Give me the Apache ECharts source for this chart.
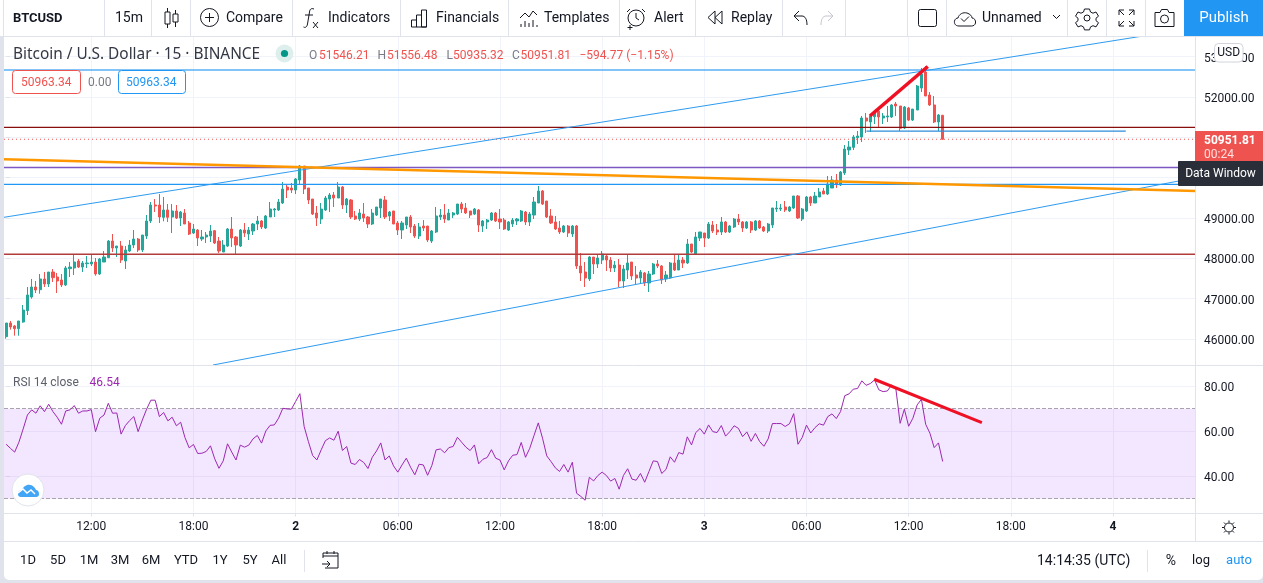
<!DOCTYPE html>
<html>
<head>
<meta charset="utf-8">
<title>BTCUSD 15m</title>
<script src="https://cdn.jsdelivr.net/npm/echarts@6/dist/echarts.min.js"></script>
<style>
  html, body { margin: 0; padding: 0; background: #e0e3eb; width: 1263px; height: 583px; overflow: hidden; }
  #paper { position: absolute; left: 4px; top: 0; width: 1259px; height: 580px; background: #fff; border-radius: 0 0 5px 5px; }
  #cap { position: absolute; left: 0; top: 0; width: 4px; height: 36px; background: #fff; }
  #chart { position: absolute; left: 0; top: 0; width: 1263px; height: 583px; }
</style>
</head>
<body>
<div id="paper"></div>
<div id="cap"></div>
<div id="chart"></div>
<script>
// 15-minute BTCUSD candles as [open, close, low, high], one array per session.
const ohlcDay1 = [
  [46054,46393,46004,46393],[46393,46294,46228,46443],[46319,46252,46079,46343],[46252,46443,46079,46443],
  [46418,46715,46401,46840],[46699,47088,46591,47286],[47038,47286,46997,47485],[47286,47212,47137,47435],
  [47220,47485,47121,47609],[47485,47361,47286,47658],[47361,47658,47286,47658],[47658,47518,47410,47733],
  [47534,47435,47137,47634],[47460,47336,47286,47609],[47336,47758,47311,47807],[47741,47782,47534,47906],
  [47758,47906,47584,48080],[47931,47782,47758,47981],[47782,47882,47658,47931],[47865,47882,47758,48055],
  [47857,47906,47807,48105],[47906,47609,47567,48006],[47609,47981,47584,48006],[47906,48030,47906,48179],
  [48014,48427,48006,48452],[48427,48254,48154,48601],[48254,48303,48030,48303],[48303,47956,47882,48427],
  [47931,48204,47733,48303],[48179,48328,48154,48452],[48328,48477,48254,48700],[48477,48204,48154,48502],
  [48204,48576,48154,48576],[48551,48924,48477,49072],[48924,49321,48874,49395],[49321,49296,49147,49469],
  [49321,49023,48874,49593],[49015,49197,48915,49519],[49197,49015,48899,49345],[49023,49172,48626,49345],
  [49172,48998,48973,49321],[48998,49147,48799,49172],[49122,48849,48849,49221],[48874,48601,48576,48924],
  [48626,48725,48601,48849],[48700,48502,48303,48725],[48477,48527,48427,48700],[48527,48576,48378,48651],
  [48551,48675,48403,48824],[48684,48378,48353,48700],[48427,48179,48130,48527],[48154,48328,48154,48452],
  [48303,48725,48278,48750],[48725,48502,48278,49023],[48527,48328,48097,48551],[48303,48700,48278,48725],
  [48700,48626,48527,48874],[48601,48700,48452,48775],[48675,48849,48576,48874],[48849,48924,48700,49048],
  [48924,48775,48725,48948],[48750,49048,48725,49072],[49023,49221,49023,49395],[49197,49221,49023,49246],
  [49197,49395,49172,49469],[49370,49718,49345,49891],[49767,49693,49494,49842],[49742,49693,49618,49866]
];
const ohlcDay2 = [
  [49693,49966,49593,49990],[49941,50288,49842,50313],[50288,49718,49593,50288],[49742,49445,49345,49742],
  [49469,49097,49072,49469],[49122,48998,48799,49296],[48973,49221,48849,49370],[49197,49494,49172,49544],
  [49469,49569,49147,49618],[49569,49494,49271,49643],[49494,49767,49494,49891],[49767,49321,49221,49792],
  [49321,49469,49122,49494],[49445,49023,48973,49469],[49048,48973,48948,49172],[48973,49122,48924,49221],
  [49097,48998,48899,49370],[49023,48849,48750,49048],[48849,49122,48824,49221],[49072,49271,49048,49271],
  [49246,49469,48998,49469],[49445,49023,48973,49544],[49048,49147,48924,49172],[49172,48849,48849,49172],
  [48874,48700,48576,48924],[48700,48874,48477,48924],[48824,49023,48725,49023],[49023,48775,48626,49072],
  [48799,48551,48502,48849],[48551,48775,48477,48874],[48799,48750,48675,48948],[48799,48452,48403,48799],
  [48427,48675,48378,48700],[48651,49048,48626,49271],[49023,49072,48948,49221],[49072,48973,48874,49345],
  [48948,49122,48948,49221],[49072,49122,48998,49147],[49097,49345,49072,49345],[49345,49221,49122,49395],
  [49246,49122,49097,49370],[49172,49072,48998,49172],[49097,49221,49072,49246],[49197,48824,48651,49221],
  [48799,48924,48651,48948],[48899,48948,48725,48973],[48948,49122,48924,49147],[49122,48924,48899,49147],
  [48973,48899,48725,49221],[48948,48725,48700,48998],[48700,48899,48675,48924],[48849,48948,48775,48998],
  [48924,48973,48824,48998],[48924,49172,48899,49197],[49147,48899,48824,49172],[48899,49097,48799,49147],
  [49072,49395,48973,49519],[49370,49668,49370,49792],[49668,49345,49321,49693],[49420,49023,48998,49420],
  [49048,48874,48849,49221],[48899,48725,48700,49048],[48750,48651,48601,48924],[48651,48799,48626,48824],
  [48799,48626,48527,48824],[48601,48799,48527,48824],[48799,47807,47733,48824],[47807,47634,47435,48130],
  [47658,47509,47286,47906],[47485,48030,47435,48055],[48030,47857,47609,48030],[47857,48006,47758,48105],
  [47956,48105,47857,48179],[48055,47956,47683,48080],[47956,47758,47658,48030],[47758,47832,47658,47931],
  [47832,47435,47286,47981],[47435,47733,47261,47832],[47708,47882,47485,48080],[47906,47559,47460,47906],
  [47584,47509,47361,47807],[47509,47658,47361,47708],[47634,47385,47311,47658],[47385,47609,47162,47683],
  [47609,47857,47584,47882],[47857,47807,47758,47956],[47807,47460,47361,47832],[47485,47584,47410,47683],
  [47509,47882,47485,47906],[47882,47708,47683,48080],[47708,47956,47708,48080],[47956,47882,47758,48030],
  [47882,48353,47857,48477],[48353,48154,48130,48353],[48105,48527,48105,48651],[48502,48651,48427,48651]
];
const ohlcDay3 = [
  [48626,48502,48278,48626],[48502,48849,48477,48899],[48824,48675,48626,48924],[48700,48651,48576,48849],
  [48651,48899,48576,49023],[48899,48651,48626,48924],[48651,48799,48626,48824],[48775,48973,48750,48998],
  [48973,48899,48824,49097],[48899,48750,48651,48924],[48750,48899,48725,48924],[48899,48700,48626,48924],
  [48700,48924,48675,48948],[48924,48750,48725,48948],[48775,48675,48651,48799],[48675,48849,48626,48874],
  [48824,49246,48750,49246],[49221,49246,49147,49420],[49221,49246,49172,49345],[49271,49197,49147,49420],
  [49172,49271,49147,49296],[49246,49544,49221,49544],[49544,48998,48973,49569],[48973,49221,48924,49246],
  [49172,49519,49147,49544],[49519,49370,49296,49544],[49370,49544,49370,49643],[49519,49643,49519,49742],
  [49668,49593,49593,49742],[49593,49842,49569,50040],[49742,49941,49742,50040],[49941,49842,49742,50090],
  [49817,50139,49792,50164],[50115,50710,50065,50809],[50685,50760,50561,50908],[50751,51008,50685,51057],
  [50991,51032,50834,51156],[51008,51479,50884,51529],[51479,51405,51107,51603],[51380,51529,51132,51553],
  [51512,51628,51330,51678],[51653,51504,51256,51702],[51479,51529,51330,51603],[51504,51529,51380,51777],
  [51504,51802,51479,51826],[51826,51777,51529,51876],[51777,51223,51157,51777],[51231,51752,51206,51777],
  [51727,51429,51405,51752],[51429,51702,51405,51702],[51678,52273,51678,52298],[52223,52571,52124,52720],
  [52620,52025,52025,52769],[52050,51802,51777,52124],[51802,51380,51355,52025],[51380,51553,51157,51578],
  [51546.21,50951.81,50935.32,51556.48]
];

// RSI(14) on close for the same bars.
const rsiDay1 = [
  54.2,52.4,50.7,55.1,61.0,67.2,69.5,68.0,71.3,68.7,72.0,68.7,66.2,63.1,69.0,69.5,71.4,68.0,69.0,69.0,
  69.6,59.8,65.8,67.2,72.4,68.0,68.1,58.7,62.5,64.7,66.5,59.8,65.0,69.8,73.8,73.8,66.5,68.3,64.6,66.2,
  62.4,64.0,57.2,52.6,54.1,50.1,50.2,51.0,53.5,47.7,43.5,46.8,54.4,50.7,47.2,53.8,52.9,53.8,56.6,58.1,
  54.7,60.1,62.6,62.8,65.8,70.2,69.9,69.8
];
const rsiDay2 = [
  73.2,76.7,62.1,55.4,49.2,47.2,51.7,55.8,57.0,56.0,60.0,51.4,53.2,45.8,45.2,47.4,46.1,43.4,48.4,51.2,
  54.8,47.2,49.0,44.6,41.8,45.0,48.0,44.0,40.6,45.3,45.0,40.4,44.7,51.7,52.1,50.4,52.7,53.2,57.3,55.1,
  52.9,51.4,53.9,45.5,47.5,48.3,51.8,48.0,47.2,42.8,46.8,49.3,49.6,55.0,48.4,52.4,58.1,63.7,56.9,49.0,
  46.5,43.7,42.1,45.2,41.8,46.2,32.4,31.0,29.3,39.5,37.9,40.3,41.8,40.3,37.8,39.0,34.2,40.3,43.3,38.7,
  38.2,41.2,37.3,42.1,46.8,46.5,41.2,43.0,48.6,46.2,50.5,49.8,57.5,53.9,59.4,61.2
];
const rsiDay3 = [
  58.7,62.8,59.8,59.4,62.5,57.8,59.8,62.4,61.3,57.6,59.7,55.5,59.0,55.4,53.3,56.6,63.4,63.4,63.4,62.1,
  63.3,67.8,54.2,57.2,62.7,59.2,61.6,63.3,62.7,66.5,67.7,65.6,68.7,75.8,76.6,78.7,79.0,82.4,80.4,81.2,
  82.8,78.4,77.6,77.9,80.6,78.8,63.5,69.8,62.2,65.8,71.7,74.2,63.1,59.1,52.7,54.8,46.54
];

// Axis ticks. Bar numbers count 15-minute steps from the first candle.
const timeTickBars = [20, 44, 68, 92, 116, 140, 164, 188, 212, 236, 260];
const timeTickLabels = ['12:00', '18:00', '2', '06:00', '12:00', '18:00', '3', '06:00', '12:00', '18:00', '4'];
const priceTicks = [46000, 47000, 48000, 49000, 50000, 51000, 52000, 53000];
const rsiTicks = [40, 60, 80];
const rsiBand = [30, 70];

// Horizontal levels drawn on the price pane.
const levelTop = 52670;
const levelDark = 51248;
const levelLastClose = 50951.81;
const levelPurple = 50251;
const levelBlue = 49834;
const levelRed = 48097;

// Drawn trend lines as [bar, value] pairs.
const channelUpper = [[-0.5, 49016], [267.5, 53521]];
const channelLower = [[48.6, 45351], [279.5, 49998]];
const orangeTrend = [[-0.5, 50454], [279.5, 49668]];
const priceDivergence = [[202.9, 51529], [216.5, 52757]];
const shortLevel = [[202.1, 51156], [263, 51156]];
const rsiDivergence = [[203.9, 83.1], [229.2, 63.8]];

const candles = ohlcDay1.concat(ohlcDay2, ohlcDay3).map((c, i) => [i, c[0], c[1], c[2], c[3]]);
const rsiLine = rsiDay1.concat(rsiDay2, rsiDay3).map((v, i) => [i, v]);

const FONT = 'Roboto, sans-serif';
const INK = '#131722';
const RULE = '#e0e3eb';
const GRID = '#f0f3fa';
const BAR_MIN = -0.5, BAR_MAX = 279.5;

function level(value, color, width, type) {
  return {
    type: 'line', xAxisIndex: 0, yAxisIndex: 0, z: 5, silent: true, showSymbol: false, symbol: 'none',
    data: [[BAR_MIN, value], [BAR_MAX, value]],
    lineStyle: { color, width, type: type || 'solid' }
  };
}
function trend(points, color, width, xi, yi, z) {
  return {
    type: 'line', xAxisIndex: xi || 0, yAxisIndex: yi || 0, z: z || 5, silent: true, showSymbol: false, symbol: 'none',
    data: points, lineStyle: { color, width }
  };
}

// Static chart furniture: toolbars, readouts, price tags and icons.
function label(x, y, text, o) {
  o = o || {};
  return {
    type: 'text', x, y: y + 1, z: o.z || 100, silent: true,
    style: {
      text, fill: o.fill || INK, fontFamily: o.family || FONT, fontSize: o.size || 14, fontWeight: o.weight || 'normal',
      align: o.align || 'left', verticalAlign: 'middle'
    }
  };
}
function rule(x1, y1, x2, y2, color) {
  return { type: 'line', z: 90, silent: true, shape: { x1, y1, x2, y2 }, style: { stroke: color || RULE, lineWidth: 1 } };
}
function box(x, y, width, height, o) {
  return {
    type: 'rect', z: o.z || 95, silent: true, shape: { x, y, width, height, r: o.r || 0 },
    style: { fill: o.fill || 'none', stroke: o.stroke || null, lineWidth: o.lw || 1 }
  };
}
function glyph(d, o) {
  o = o || {};
  return {
    type: 'path', shape: { pathData: d },
    style: { fill: o.fill || 'none', stroke: o.stroke === undefined ? INK : o.stroke, lineWidth: o.lw || 1 }
  };
}
function ring(cx, cy, r, o) {
  o = o || {};
  return {
    type: 'circle', z: o.z || 100, silent: true, shape: { cx, cy, r },
    style: { fill: o.fill || 'none', stroke: o.stroke === undefined ? INK : o.stroke, lineWidth: o.lw || 1 }
  };
}

const icons = [
  glyph('M167.5 8v4M167.5 24v4M165 12h5v12h-5zM175.5 10v4M175.5 22v5M173 14h5v8h-5z'),
  glyph('M209.5 13v9M205 17.5h9'),
  glyph('M314 9c-3 -1 -4 0 -4.5 3l-2 12c-.5 3 -2 4 -4 3M305 15h8M313 22l5 6M318 22l-5 6'),
  glyph('M411.5 27v-7h5v7M416.5 27v-12h5v12M421.5 27v-17h5v17zM411.5 27h15'),
  glyph('M520 18l5 -5 4 4 4 -6 4 4M521 27v-3M525 27v-6M529 27v-4M533 27v-7M537 27v-2'),
  glyph('M636 13v5l3 2M630 9l-3 3M642 9l3 3M630 25v5M627.5 27.5h5'),
  glyph('M715 11l-7 6.5 7 6.5zM722 11l-7 6.5 7 6.5z'),
  glyph('M794 16l5 -5M794 16l5 5M794 16h8c3 0 5 3 5 9'),
  glyph('M833 16l-5 -5M833 16l-5 5M833 16h-7c-3 0 -5 3 -5 9', { stroke: '#c3c6cf' }),
  glyph('M959 26c-4 0 -5 -3 -4.5 -5 .5 -2 2 -3 3.5 -3 1 -4 5 -6 9 -5 3 1 5 3 5 5 2 0 4 2 3.5 5 -.5 2 -2 3 -4 3zM961 18.5l3 3 5 -5'),
  glyph('M1053 15l3.5 3.5 3.5 -3.5'),
  glyph('M1084.5 9h5l1 3 2.5 1.2 3 -1.2 2.5 4.2 -2.5 2 0 2.5 2.5 2 -2.5 4.2 -3 -1.2 -2.5 1.2 -1 3h-5l-1 -3 -2.5 -1.2 -3 1.2 -2.5 -4.2 2.5 -2 0 -2.5 -2.5 -2 2.5 -4.2 3 1.2 2.5 -1.2z'),
  glyph('M1119 15v-5h5M1119 10l5 5M1134 15v-5h-5M1134 10l-5 5M1119 21v5h5M1119 26l5 -5M1134 21v5h-5M1134 26l-5 -5'),
  glyph('M1155 12.5h5l1.5 -3h6l1.5 3h5v14h-19z'),
  glyph('M18 494c0 -3 2 -4 4 -4 1 -3 5 -6 8 -5 2 0 5 2 6 5 2 0 3 2 3 4 0 2 -1 3 -3 3h-15c-2 0 -3 -1 -3 -3z', { fill: '#42a5f5', stroke: 'none' }),
  glyph('M18 493l5 -4 4 4 4 -3 4 4', { stroke: '#fff', lw: 1.5 }),
  glyph('M1229 520.5v2M1229 532.5v2M1222 527.5h2M1234 527.5h2M1224 522.5l1.5 1.5M1232.5 531l1.5 1.5M1234 522.5l-1.5 1.5M1225.5 531l-1.5 1.5'),
  glyph('M323 558v-5h15v15h-13M323 556h15M327 551v3M334 551v3M322 564h8M327 561l3 3 -3 3')
];

const furniture = [
  // toolbar frame
  rule(0, 36.5, 1263, 36.5), rule(3.5, 0, 3.5, 36),
  rule(104.5, 0, 104.5, 36), rule(151.5, 0, 151.5, 36), rule(190.5, 0, 190.5, 36), rule(292.5, 0, 292.5, 36),
  rule(400.5, 0, 400.5, 36), rule(508.5, 0, 508.5, 36), rule(619.5, 0, 619.5, 36), rule(695.5, 0, 695.5, 36),
  rule(782.5, 0, 782.5, 36), rule(845.5, 0, 845.5, 36), rule(907.5, 0, 907.5, 36), rule(946.5, 0, 946.5, 36),
  rule(1067.5, 0, 1067.5, 36), rule(1106.5, 0, 1106.5, 36), rule(1145.5, 0, 1145.5, 36),
  box(1184, 0, 79, 36, { fill: '#2196f3' }),

  label(13, 17.5, 'BTCUSD', { weight: 'bold', size: 13 }),
  label(115, 17.5, '15m'),
  label(226, 17.5, 'Compare'),
  label(328, 17.5, 'Indicators'),
  label(436, 17.5, 'Financials'),
  label(544, 17.5, 'Templates'),
  label(654, 17.5, 'Alert'),
  label(731, 17.5, 'Replay'),
  label(982, 17.5, 'Unnamed'),
  label(1224, 17.5, 'Publish', { fill: '#fff', size: 15, align: 'center' }),

  // round parts of the toolbar icons
  ring(209.5, 17.5, 9),
  ring(636, 18, 8),
  box(918.5, 9.5, 18, 17, { stroke: INK, r: 2, z: 100 }),
  ring(1087, 18, 3),
  ring(1164.5, 19, 4),

  // symbol header and OHLC readout
  label(13, 54, 'Bitcoin / U.S. Dollar · 15 · BINANCE', { size: 15.4, family: '"Noto Sans", sans-serif', fill: '#333743' }),
  ring(284.5, 53.5, 9, { fill: '#dcefec', stroke: 'none' }),
  ring(284.5, 53.5, 3.6, { fill: '#009688', stroke: 'none' }),
  label(309, 54.5, 'O', { size: 12, fill: '#787b86' }), label(319, 54.5, '51546.21', { size: 12, fill: '#ef5350' }),
  label(377.5, 54.5, 'H', { size: 12, fill: '#787b86' }), label(387, 54.5, '51556.48', { size: 12, fill: '#ef5350' }),
  label(446.5, 54.5, 'L', { size: 12, fill: '#787b86' }), label(453, 54.5, '50935.32', { size: 12, fill: '#ef5350' }),
  label(512, 54.5, 'C', { size: 12, fill: '#787b86' }), label(520.5, 54.5, '50951.81', { size: 12, fill: '#ef5350' }),
  label(579.5, 54.5, '−594.77 (−1.15%)', { size: 12, fill: '#ef5350' }),

  // crosshair value boxes
  box(12.5, 70.5, 68, 23, { fill: '#fff', stroke: '#ef5350', r: 3 }),
  label(21, 82, '50963.34', { size: 12, fill: '#ef5350' }),
  label(88, 82, '0.00', { size: 12, fill: '#787b86' }),
  box(118.5, 70.5, 67, 23, { fill: '#fff', stroke: '#2196f3', r: 3 }),
  label(126, 82, '50963.34', { size: 12, fill: '#2196f3' }),

  // price scale tags
  box(1214.5, 43.5, 28.5, 18.5, { fill: '#fff', stroke: '#d1d4dc', r: 4 }),
  label(1228.7, 52, 'USD', { size: 12, align: 'center', z: 101 }),
  box(1195, 131, 68, 31, { fill: '#ef5350' }),
  label(1204, 140, '50951.81', { size: 12, fill: '#fff', weight: 'bold' }),
  label(1204, 154, '00:24', { size: 12, fill: '#fde0df' }),
  box(1178, 161, 85, 25, { fill: '#2a2e39', r: 1, z: 98 }),
  label(1220.5, 172.5, 'Data Window', { size: 12, fill: '#fff', align: 'center' }),

  // panes and scales frame
  rule(1195.5, 37, 1195.5, 541),
  rule(4, 365.5, 1263, 365.5),
  rule(4, 513.5, 1263, 513.5),
  rule(4, 541.5, 1263, 541.5),

  // RSI legend and the logo badge
  label(13, 381.5, 'RSI 14 close', { size: 12, fill: '#5d606b' }),
  label(89.5, 381.5, '46.54', { size: 12, fill: '#9c27b0' }),
  ring(28, 490, 16, { fill: '#fff', stroke: '#e0e3eb' }),

  // gear at the end of the time scale
  ring(1229, 527.5, 4.5),

  // range buttons and session clock
  label(28, 560, '1D', { size: 13, align: 'center' }), label(58, 560, '5D', { size: 13, align: 'center' }),
  label(89, 560, '1M', { size: 13, align: 'center' }), label(120, 560, '3M', { size: 13, align: 'center' }),
  label(151, 560, '6M', { size: 13, align: 'center' }), label(186, 560, 'YTD', { size: 13, align: 'center' }),
  label(220, 560, '1Y', { size: 13, align: 'center' }), label(250, 560, '5Y', { size: 13, align: 'center' }),
  label(279, 560, 'All', { size: 13, align: 'center' }),
  rule(304.5, 550, 304.5, 572),
  label(1037, 560, '14:14:35 (UTC)', { size: 14 }),
  rule(1147.5, 550, 1147.5, 572),
  label(1171, 560, '%', { size: 14, align: 'center' }),
  label(1201, 560, 'log', { size: 13, align: 'center' }),
  label(1239, 560, 'auto', { size: 13, align: 'center', fill: '#2196f3' })
];

const chart = echarts.init(document.getElementById('chart'), null, { renderer: 'canvas' });

function timeAxis(gridIndex, showLabels) {
  return {
    type: 'value', gridIndex, min: BAR_MIN, max: BAR_MAX,
    axisLine: { show: false },
    axisTick: { show: showLabels, length: 3, lineStyle: { color: RULE }, customValues: timeTickBars },
    axisLabel: {
      show: showLabels, customValues: timeTickBars, margin: 7, color: INK, fontFamily: FONT, fontSize: 12,
      formatter: v => {
        const t = timeTickLabels[timeTickBars.indexOf(v)];
        return t.length === 1 ? '{day|' + t + '}' : t;
      },
      rich: { day: { fontFamily: FONT, fontSize: 12, fontWeight: 'bold', color: INK } }
    },
    splitLine: { show: true, lineStyle: { color: GRID, width: 1 } }
  };
}
function valueAxis(gridIndex, min, max, ticks) {
  return {
    type: 'value', gridIndex, position: 'right', min, max,
    axisLine: { show: false },
    axisTick: { show: true, length: 4, lineStyle: { color: RULE }, customValues: ticks },
    axisLabel: {
      customValues: ticks, margin: 8, color: INK, fontFamily: FONT, fontSize: 12,
      formatter: v => '{v|' + v.toFixed(2) + '}',
      rich: { v: { fontFamily: FONT, fontSize: 12, color: INK, padding: [4, 0, 0, 0] } }
    },
    splitLine: { show: true, lineStyle: { color: GRID, width: 1 } }
  };
}

chart.setOption({
  animation: false,
  backgroundColor: 'transparent',
  textStyle: { fontFamily: FONT },
  grid: [
    { left: 4, top: 37, width: 1192, height: 328 },
    { left: 4, top: 366, width: 1192, height: 147.5 }
  ],
  xAxis: [timeAxis(0, false), timeAxis(1, true)],
  yAxis: [valueAxis(0, 45351, 53489, priceTicks), valueAxis(1, 23.4, 89, rsiTicks)],
  graphic: { elements: furniture },
  series: [
    {
      name: 'BTCUSD', type: 'candlestick', xAxisIndex: 0, yAxisIndex: 0, z: 3, silent: true,
      data: candles, encode: { x: 0, y: [1, 2, 3, 4] }, barWidth: 2.6,
      itemStyle: { color: '#26a69a', color0: '#ef5350', borderColor: '#26a69a', borderColor0: '#ef5350', borderWidth: 1 }
    },
    level(levelTop, 'rgba(33,150,243,0.75)', 1.6),
    level(levelDark, '#880e0e', 1.2),
    level(levelLastClose, '#ef5350', 1, [1, 3]),
    level(levelPurple, '#7e57c2', 1.5),
    level(levelBlue, '#2196f3', 1.2),
    level(levelRed, '#b23b3b', 1.6),
    trend(shortLevel, '#2e8bd8', 1.2),
    trend(channelUpper, '#2e9bf0', 1),
    trend(channelLower, '#2e9bf0', 1),
    trend(orangeTrend, '#ff9800', 2.6),
    trend(priceDivergence, '#f01024', 3.6, 0, 0, 8),
    {
      name: 'RSI', type: 'line', xAxisIndex: 1, yAxisIndex: 1, z: 6, silent: true, showSymbol: false, symbol: 'none',
      data: rsiLine, lineStyle: { color: '#9c27b0', width: 1 },
      markArea: {
        silent: true, itemStyle: { color: 'rgba(179,102,255,0.16)' },
        data: [[{ yAxis: rsiBand[1] }, { yAxis: rsiBand[0] }]]
      },
      markLine: {
        silent: true, symbol: 'none', label: { show: false },
        lineStyle: { color: '#a8a3ad', type: 'dashed', width: 1 },
        data: [{ yAxis: rsiBand[1] }, { yAxis: rsiBand[0] }]
      }
    },
    trend(rsiDivergence, '#f01024', 3, 1, 1, 8),
    {
      // toolbar and scale icons, laid out in page pixels
      name: 'icons', type: 'custom', coordinateSystem: 'none', z: 120, silent: true, data: [[0]],
      renderItem: () => ({ type: 'group', children: icons })
    }
  ]
});
</script>
</body>
</html>
